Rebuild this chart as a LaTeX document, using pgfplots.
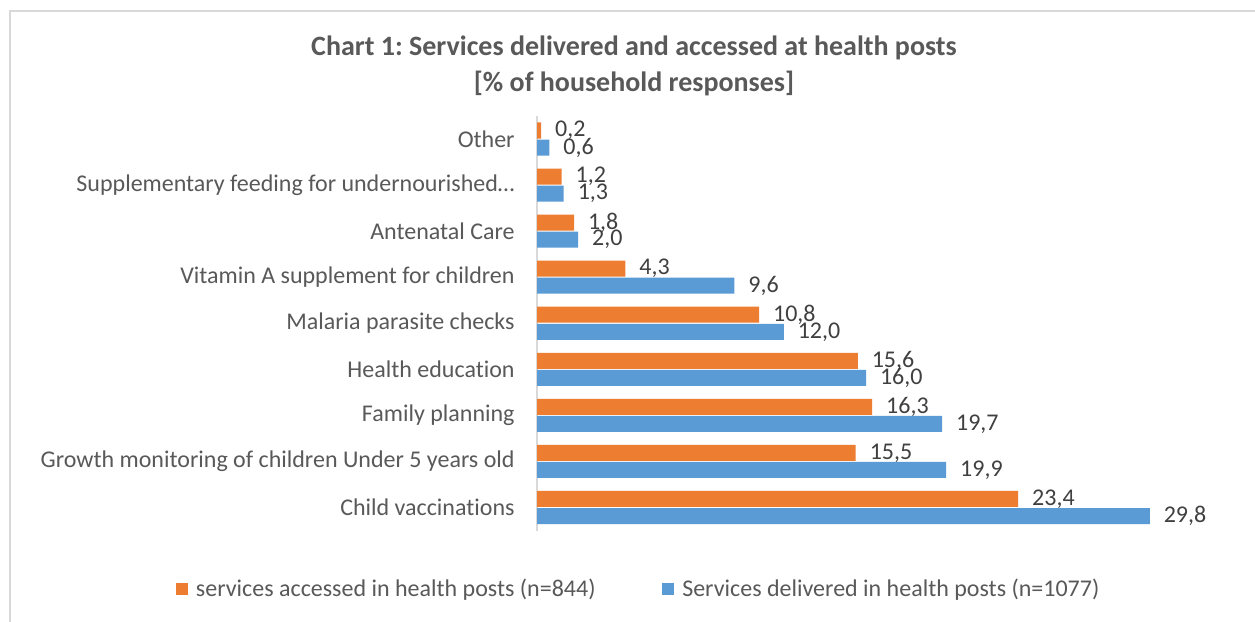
\documentclass[border=0pt]{standalone}
\usepackage{pgfplots}
\pgfplotsset{compat=1.18}
\usepackage{fontspec}
\setmainfont{Carlito}[Ligatures=NoCommon]
\frenchspacing
\definecolor{cOrange}{HTML}{ED7D31}
\definecolor{cBlue}{HTML}{5B9BD5}
\definecolor{cText}{HTML}{595959}
\definecolor{cLabel}{HTML}{404040}
\definecolor{cAxis}{HTML}{D9D9D9}
\definecolor{cBorder}{HTML}{D9D9D9}
\begin{document}
\begin{tikzpicture}
\begin{scope}[x=0.75pt,y=-0.75pt]
\useasboundingbox (0,0) rectangle (1255,621);
\fill[white] (0,0) rectangle (1255,621);
\draw[cBorder,line width=1.5pt] (10,640) -- (10,10.5) -- (1270,10.5);
\node[font=\fontsize{21}{27}\selectfont\bfseries,text=cText,align=center] at (634,66) {Chart 1: Services delivered and accessed at health posts\\{}[\% of household responses]};
\end{scope}
\begin{axis}[
  at={(402.75pt,-397.9pt)}, anchor=south west,
  scale only axis,
  width=493.5pt, height=310.9pt,
  xmin=0, xmax=32,
  ymin=-0.5, ymax=8.5,
  xbar,
  bar width=12pt,
  axis x line=none,
  axis y line*=left,
  y axis line style={cAxis,line width=1.5pt,-},
  ytick={0,...,8},
  yticklabels={Child vaccinations,Growth monitoring of children Under 5 years old,Family planning,Health education,Malaria parasite checks,Vitamin A supplement for children,Antenatal Care,Supplementary feeding for undernourished…,Other},
  ytick style={draw=none},
  yticklabel style={font=\fontsize{18}{21}\selectfont,text=cText,xshift=-9pt},
  nodes near coords,
  point meta=x,
  nodes near coords style={font=\fontsize{18}{21}\selectfont,text=cLabel,anchor=west,xshift=7pt,
    /pgf/number format/.cd,fixed,fixed zerofill,precision=1,use comma,assume math mode=true},
  legend style={at={(0.155,-0.14)},anchor=center,draw=none,legend columns=2,
    font=\fontsize{18}{21}\selectfont,text=cText,
    /tikz/every even column/.append style={column sep=48pt}},
  legend image code/.code={\fill[#1] (0pt,-4.5pt) rectangle (9pt,4.5pt);\path (13pt,0pt);},
]
\addplot[draw=none,fill=cOrange,bar shift=6.4pt] coordinates {
(23.4,0) (15.5,1) (16.3,2) (15.6,3) (10.8,4) (4.3,5) (1.8,6) (1.2,7) (0.2,8)};
\addlegendentry{services accessed in health posts (n=844)}
\addplot[draw=none,fill=cBlue,bar shift=-6.4pt] coordinates {
(29.8,0) (19.9,1) (19.7,2) (16.0,3) (12.0,4) (9.6,5) (2.0,6) (1.3,7) (0.6,8)};
\addlegendentry{Services delivered in health posts (n=1077)}
\end{axis}
\end{tikzpicture}
\end{document}
